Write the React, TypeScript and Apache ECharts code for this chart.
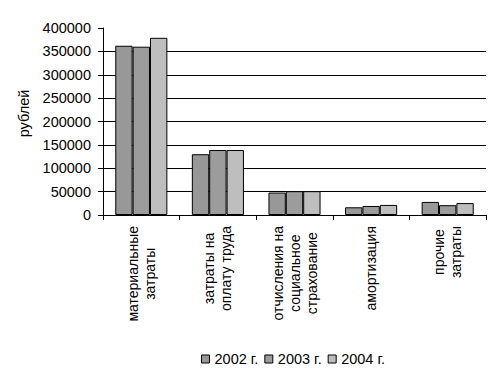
import React, { useEffect, useRef } from "react";
import * as echarts from "echarts";

const categories = [
  "материальные\nзатраты",
  "затраты на\nоплату труда",
  "отчисления на\nсоциальное\nстрахование",
  "амортизация",
  "прочие\nзатраты",
];
const seriesNames = ["2002 г.", "2003 г.", "2004 г."];
const values2002 = [362000, 130000, 48000, 16500, 28000];
const values2003 = [360000, 139000, 51000, 19300, 21000];
const values2004 = [379000, 139000, 51000, 21500, 25500];
const colors = ["#989898", "#9c9c9c", "#bebebe"];
const yAxisName = "рублей";

const FONT = "'Liberation Sans', Arial, sans-serif";

export default function App() {
  const ref = useRef<HTMLDivElement>(null);
  useEffect(() => {
    if (!ref.current) return;
    const chart = echarts.init(ref.current, undefined, { renderer: "svg" });
    const data = [values2002, values2003, values2004];
    chart.setOption({
      animation: false,
      backgroundColor: "#ffffff",
      textStyle: { fontFamily: FONT, color: "#000" },
      grid: { left: 103, right: 16, top: 28, bottom: 157, containLabel: false },
      legend: {
        data: seriesNames,
        top: 346,
        left: 196,
        itemWidth: 8,
        itemHeight: 8,
        itemGap: 6,
        icon: "rect",
        itemStyle: { borderColor: "#000", borderWidth: 1 },
        textStyle: { fontFamily: FONT, fontSize: 14.5, color: "#000", lineHeight: 16 },
      },
      xAxis: {
        type: "category",
        data: categories,
        axisLine: { lineStyle: { color: "#000", width: 1 } },
        axisTick: { show: true, length: 5, lineStyle: { color: "#000" } },
        axisLabel: {
          interval: 0,
          rotate: 90,
          margin: 11,
          fontFamily: FONT,
          fontSize: 14,
          color: "#000",
          formatter: (v: string) =>
            v
              .split("\n")
              .map((l) => `{c|${l}}`)
              .join("\n"),
          rich: {
            c: { align: "center", fontFamily: FONT, fontSize: 14, color: "#000", lineHeight: 17 },
          },
        },
      },
      yAxis: {
        type: "value",
        min: 0,
        max: 400000,
        interval: 50000,
        name: yAxisName,
        nameLocation: "middle",
        nameGap: 60,
        nameTextStyle: { fontFamily: FONT, fontSize: 14.5, color: "#000", padding: [0, 0, 0, 16] },
        axisLine: { show: true, lineStyle: { color: "#000", width: 1 } },
        axisTick: { show: true, length: 5, lineStyle: { color: "#000" } },
        axisLabel: {
          margin: 12,
          fontFamily: FONT,
          fontSize: 14.5,
          color: "#000",
          formatter: (v: number) => String(v),
        },
        splitLine: { show: true, showMaxLine: false, lineStyle: { color: "#000", width: 1 } },
      },
      series: seriesNames.map((name, i) => ({
        name,
        type: "bar",
        data: data[i],
        barGap: "0%",
        barCategoryGap: "32%",
        itemStyle: { color: colors[i], borderColor: "#000", borderWidth: 1 },
      })),
    });
    return () => chart.dispose();
  }, []);
  return <div ref={ref} style={{ width: 502, height: 372, position: "absolute", left: 0, top: 0 }} />;
}
